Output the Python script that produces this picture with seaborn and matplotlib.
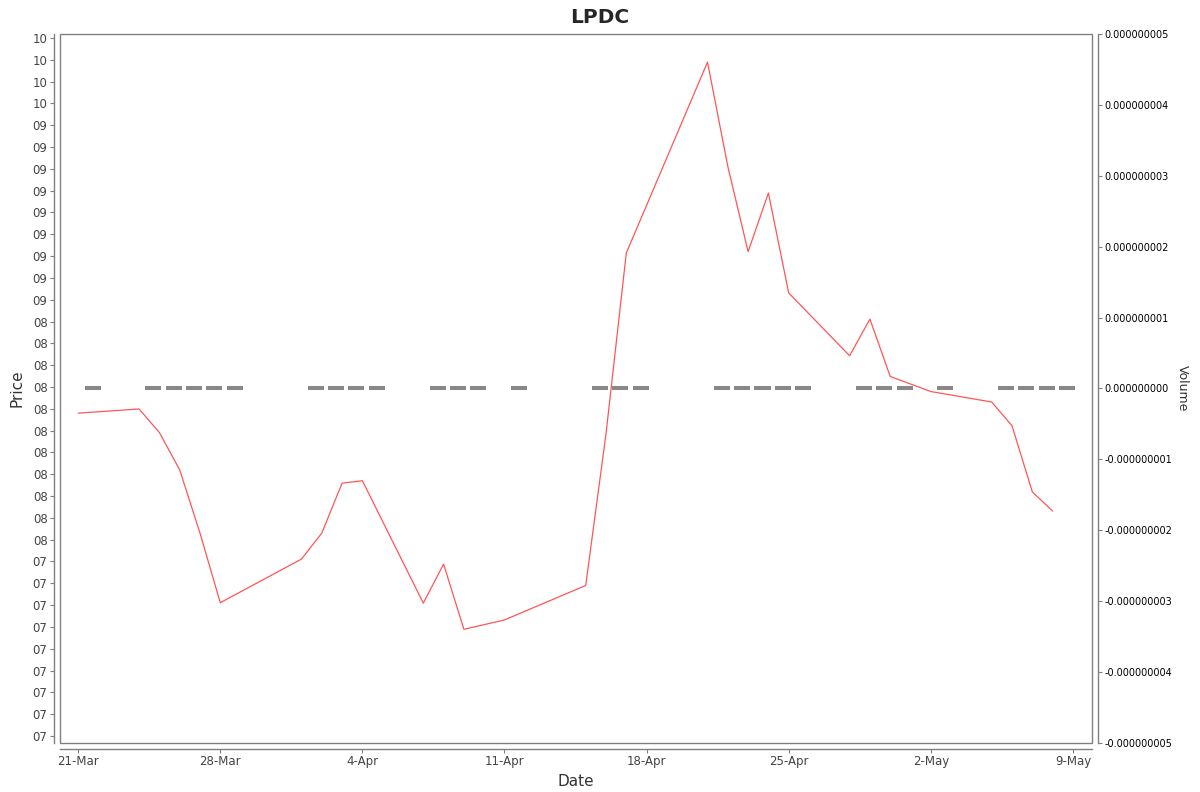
import numpy as np
import pandas as pd
import matplotlib
matplotlib.use('Agg')
import matplotlib.pyplot as plt
import matplotlib.dates as mdates
from matplotlib.ticker import FixedLocator, FixedFormatter, FormatStrFormatter
import seaborn as sns

# %%
dates = ['2022-03-21', '2022-03-24', '2022-03-25', '2022-03-26', '2022-03-27', '2022-03-28',
         '2022-04-01', '2022-04-02', '2022-04-03', '2022-04-04',
         '2022-04-07', '2022-04-08', '2022-04-09', '2022-04-11',
         '2022-04-15', '2022-04-16', '2022-04-17',
         '2022-04-21', '2022-04-22', '2022-04-23', '2022-04-24', '2022-04-25',
         '2022-04-28', '2022-04-29', '2022-04-30', '2022-05-02',
         '2022-05-05', '2022-05-06', '2022-05-07', '2022-05-08']
price = [8.080, 8.099, 7.991, 7.820, 7.530, 7.211,
         7.411, 7.530, 7.759, 7.770,
         7.209, 7.388, 7.089, 7.132,
         7.290, 7.985, 8.814,
         9.689, 9.211, 8.820, 9.089, 8.631,
         8.343, 8.511, 8.248, 8.179,
         8.131, 8.022, 7.719, 7.631]
volume = [0.0] * len(dates)

price_ticks = [round(6.6 + 0.1 * i, 1) for i in range(33)]
price_tick_labels = ['07'] * 9 + ['08'] * 11 + ['09'] * 9 + ['10'] * 4
volume_ticks = [-5e-9, -4e-9, -3e-9, -2e-9, -1e-9, 0.0, 1e-9, 2e-9, 3e-9, 4e-9, 5e-9]
date_ticks = ['2022-03-21', '2022-03-28', '2022-04-04', '2022-04-11',
              '2022-04-18', '2022-04-25', '2022-05-02', '2022-05-09']

df = pd.DataFrame({'Date': pd.to_datetime(dates), 'Price': price, 'Volume': volume})

# %%
sns.set_style('white')
plt.rcParams['font.family'] = ['DejaVu Sans']

fig = plt.figure(figsize=(12, 7.92), dpi=100)
ax = fig.add_axes([0.05, 0.0619, 0.86, 0.8952])
ax2 = ax.twinx()

frame = '#808080'

# volume bars (all zero) on the right axis
ax2.bar(df['Date'] + pd.Timedelta(hours=17), df['Volume'], width=0.79,
        color='#808080', edgecolor='#888888', linewidth=2.9)

sns.lineplot(data=df, x='Date', y='Price', ax=ax, color='#ff5555', linewidth=0.9)
ax.set_zorder(ax2.get_zorder() + 1)
ax.patch.set_visible(False)
ax2.patch.set_visible(False)

start = pd.Timestamp('2022-03-21')
ax.set_xlim(start - pd.Timedelta(hours=21.5), start + pd.Timedelta(days=49.94))
ax.set_ylim(6.568, 9.818)
ax2.set_ylim(-5e-9, 5e-9)

ax.yaxis.set_major_locator(FixedLocator(price_ticks))
ax.yaxis.set_major_formatter(FixedFormatter(price_tick_labels))
ax.set_xticks(pd.to_datetime(date_ticks))
ax.xaxis.set_major_formatter(mdates.DateFormatter('%-d-%b'))
ax2.set_yticks(volume_ticks)
ax2.yaxis.set_major_formatter(FormatStrFormatter('%.9f'))

for a in (ax, ax2):
    for s in a.spines.values():
        s.set_color(frame)
        s.set_linewidth(1.0)
    a.spines['top'].set_visible(False)
ax.spines['right'].set_visible(False)
ax2.spines['left'].set_visible(False)
ax2.spines['bottom'].set_visible(False)
ax.spines['left'].set_position(('outward', 4))
ax.spines['bottom'].set_position(('outward', 4))
ax2.spines['right'].set_position(('outward', 4))

ax.tick_params(axis='both', direction='out', length=3, width=0.8, color=frame,
               labelsize=8.5, labelcolor='#444444', left=True, bottom=True, pad=2)
ax2.tick_params(axis='y', direction='out', length=3, width=0.8, color=frame,
                labelsize=7, labelcolor='black', right=True, pad=2)

# the axes frame box
rect = plt.Rectangle((0, 0), 1, 1, transform=ax.transAxes, fill=False,
                     edgecolor=frame, linewidth=1.0, zorder=5, clip_on=False)
ax.add_patch(rect)

ax.set_xlabel('Date', fontsize=11, color='#333333', labelpad=4)
ax.set_ylabel('Price', fontsize=11, color='#333333', labelpad=6)
ax2.set_ylabel('Volume', fontsize=9, color='#333333', rotation=270, labelpad=12)
fig.suptitle('LPDC', fontsize=14.5, fontweight='bold', x=0.5, y=0.99)

plt.savefig('out.png', dpi=100)
